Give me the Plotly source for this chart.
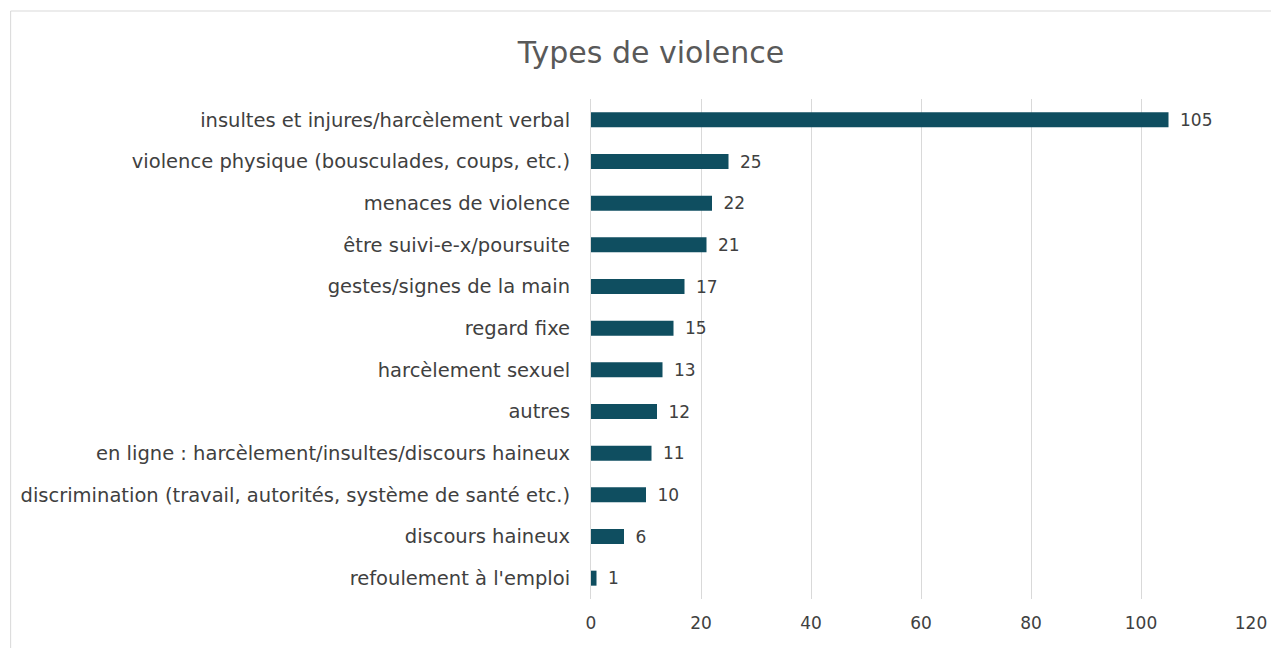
import plotly.graph_objects as go

categories = [
    "insultes et injures/harcèlement verbal",
    "violence physique (bousculades, coups, etc.)",
    "menaces de violence",
    "être suivi-e-x/poursuite",
    "gestes/signes de la main",
    "regard fixe",
    "harcèlement sexuel",
    "autres",
    "en ligne : harcèlement/insultes/discours haineux",
    "discrimination (travail, autorités, système de santé etc.)",
    "discours haineux",
    "refoulement à l'emploi",
]
values = [105, 25, 22, 21, 17, 15, 13, 12, 11, 10, 6, 1]
tick_vals = [0, 20, 40, 60, 80, 100, 120]

FONT = "DejaVu Sans"
TXT = "#404040"

fig = go.Figure(go.Bar(
    x=values,
    y=categories,
    orientation="h",
    width=0.36,
    marker=dict(color="#0f4e60", line=dict(width=0)),
    texttemplate="\u2002%{x}",
    textposition="outside",
    constraintext="none",
    textfont=dict(family=FONT, size=17, color=TXT),
    cliponaxis=False,
    hoverinfo="x+y",
))

# page has an 8px body margin; figure sized to fill the remaining window
W, H = 1271, 640
L, R, T, B = 583, 25, 91, 49
pw = W - L - R
ph = H - T - B

fig.update_layout(
    width=W, height=H,
    margin=dict(l=L, r=R, t=T, b=B, pad=0),
    paper_bgcolor="white",
    plot_bgcolor="white",
    showlegend=False,
    title=dict(
        text="Types de violence",
        font=dict(family=FONT, size=30, color="#595959"),
        x=643 / W, xanchor="center",
        y=1 - 44 / H, yanchor="middle",
        xref="container", yref="container",
    ),
    xaxis=dict(
        range=[0, 120],
        tickvals=tick_vals,
        showgrid=True,
        gridcolor="#d9d9d9",
        gridwidth=1,
        zeroline=False,
        showline=False,
        ticks="",
        ticklabelstandoff=12,
        tickfont=dict(family=FONT, size=17, color=TXT),
    ),
    yaxis=dict(
        autorange="reversed",
        showgrid=False,
        showline=True,
        linecolor="#d9d9d9",
        linewidth=1,
        ticks="",
        ticklabelstandoff=16,
        tickfont=dict(family=FONT, size=19.5, color=TXT),
    ),
    shapes=[dict(
        type="rect",
        xref="paper", yref="paper",
        x0=(0 - L) / pw, x1=(W + 20 - L) / pw,
        y0=-0.3, y1=(H - B - 3) / ph,
        line=dict(color="#d9d9d9", width=1),
        fillcolor="rgba(0,0,0,0)",
        layer="below",
    )],
)

fig.write_html("out.html")
